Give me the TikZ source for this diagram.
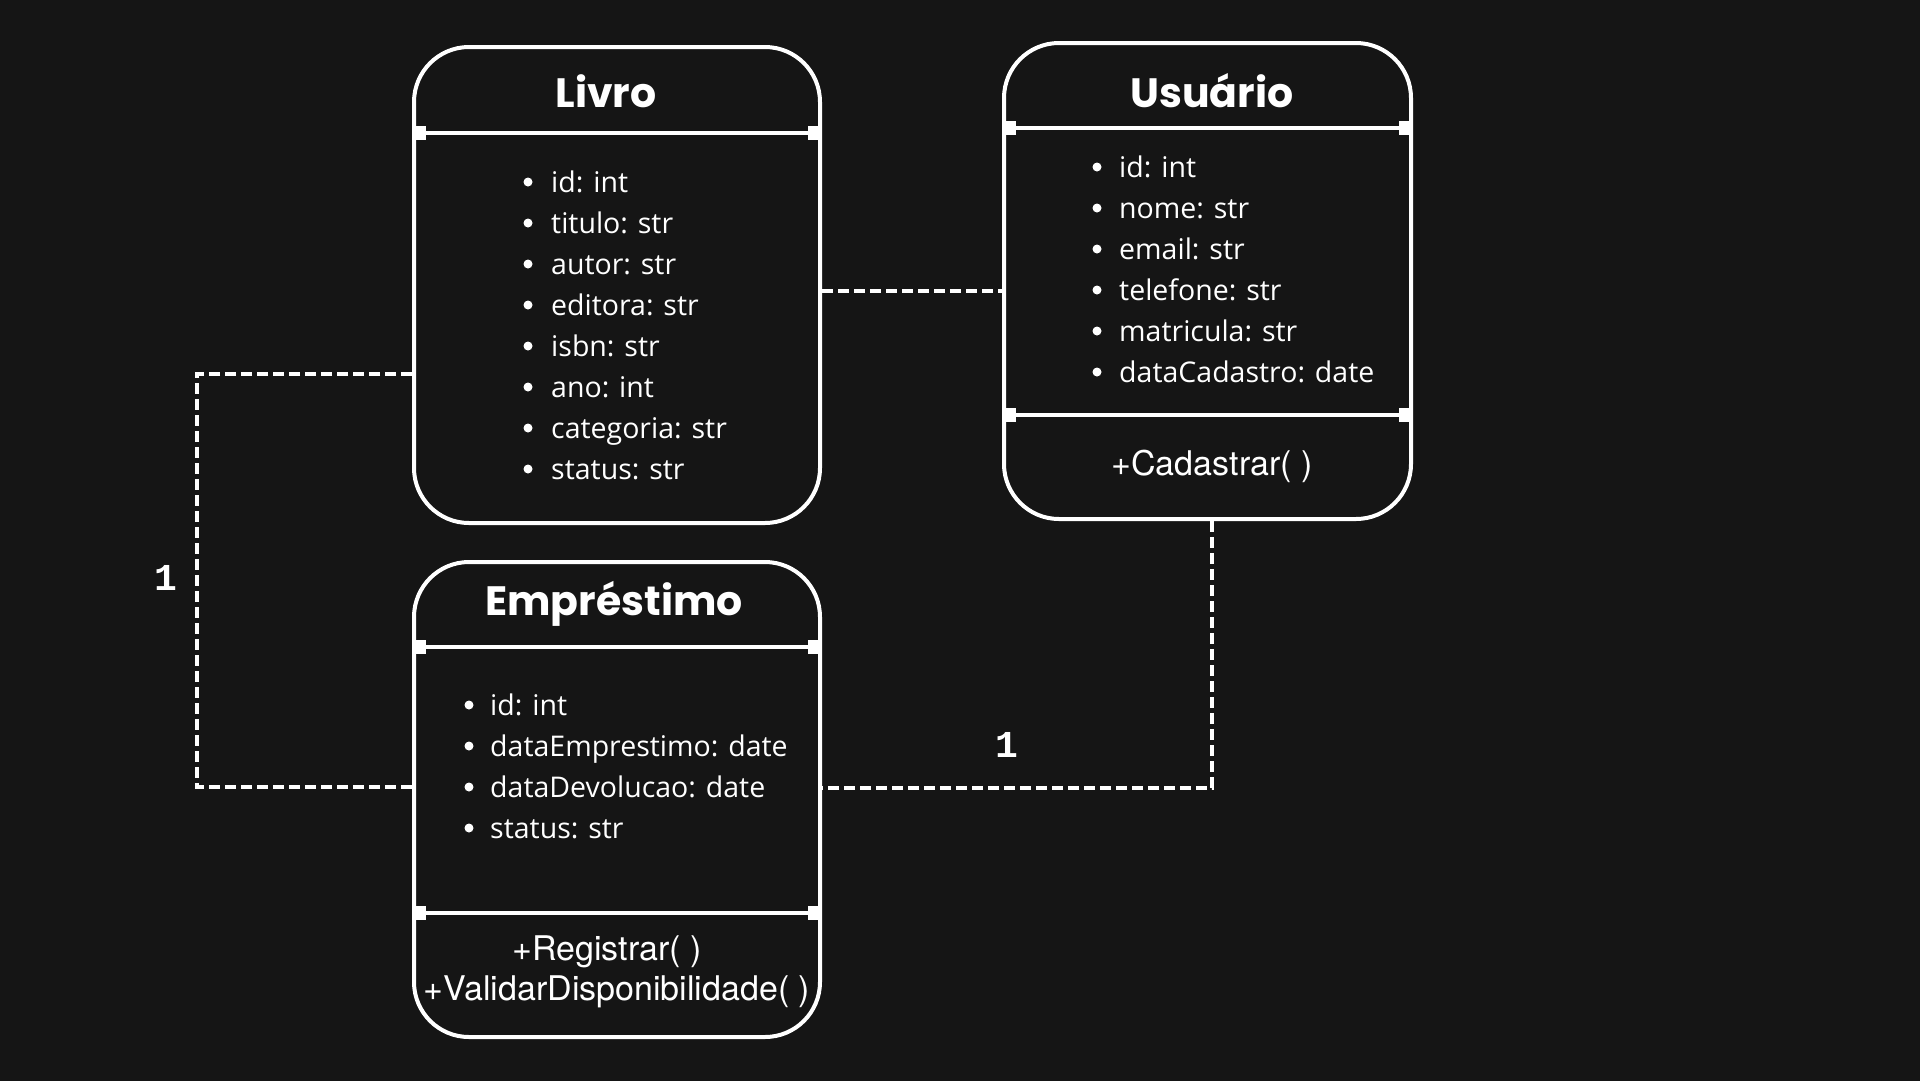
\documentclass[tikz,border=0pt]{standalone}
\usepackage{fontspec}
\setmainfont{Open Sans}
\newfontfamily\titlefont{Poppins}
\newfontfamily\methfont{TeX Gyre Heros}
\newfontfamily\multfont{Liberation Mono}
\usetikzlibrary{calc,positioning}
\definecolor{bg}{RGB}{21,21,21}

\begin{document}
\begin{tikzpicture}[x=1pt, y=-1pt,
  cls/.style={draw=white, fill=bg, line width=4pt, rounded corners=55pt, inner sep=0pt},
  ttl/.style={anchor=base, text=white, inner sep=0pt, font=\titlefont\bfseries\fontsize{41}{41}\selectfont},
  attr/.style={anchor=base west, text=white, inner sep=0pt, font=\fontsize{28.5}{28.5}\selectfont},
  meth/.style={anchor=base, text=white, inner sep=0pt, font=\methfont\fontsize{34}{34}\selectfont},
  sep/.style={draw=white, line width=3.5pt},
  assoc/.style={draw=white, line width=3.5pt, dash pattern=on 11pt off 5pt},
  mult/.style={anchor=base, text=white, inner sep=0pt, font=\multfont\bfseries\fontsize{38}{38}\selectfont}]
\useasboundingbox (0,0) rectangle (1920,1080);
\fill[bg] (-10,-10) rectangle (1930,1090);
%classes
\node[cls, minimum width=406pt, minimum height=476pt] (livro) at (617,285) {};
\node[cls, minimum width=407pt, minimum height=476pt] (usuario) at (1207.5,281) {};
\node[cls, minimum width=406pt, minimum height=475pt] (emp) at (617,799.5) {};
%compartment lines
\foreach \b/\y in {livro/133, usuario/128, usuario/415, emp/647, emp/913}{
  \draw[sep] (\b.west |- 0,\y) -- (\b.east |- 0,\y);
  \fill[white] (\b.west |- 0,\y) ++(1,-7) rectangle ++(13,14);
  \fill[white] (\b.east |- 0,\y) ++(-14,-7) rectangle ++(13,14);
}
%titles
\node[ttl] (livro-t) at (606,107) {Livro};
\node[ttl] (usuario-t) at (1212,107) {Usuário};
\node[ttl] (emp-t) at (614,615) {Empréstimo};
%attributes
\foreach \txt [count=\i from 0] in {id: int, titulo: str, autor: str, editora: str, isbn: str, ano: int, categoria: str, status: str}{
  \fill[white] (528,182+41*\i) circle (4.5pt);
  \node[attr] (livro-\i) at (551,192+41*\i) {\txt};
}
\foreach \txt [count=\i from 0] in {id: int, nome: str, email: str, telefone: str, matricula: str, dataCadastro: date}{
  \fill[white] (1097,167+41*\i) circle (4.5pt);
  \node[attr] (usuario-\i) at (1119,177+41*\i) {\txt};
}
\foreach \txt [count=\i from 0] in {id: int, dataEmprestimo: date, dataDevolucao: date, status: str}{
  \fill[white] (469,705+41*\i) circle (4.5pt);
  \node[attr] (emp-\i) at (490,715+41*\i) {\txt};
}
%methods
\node[meth] (usuario-m) at (1212,475) {+Cadastrar( )};
\node[meth] (emp-m1) at (607,960) {+Registrar( )};
\node[meth] (emp-m2) at (617,1000) {+ValidarDisponibilidade( )};
%associations
\draw[assoc] (livro.east |- 0,291) -- (usuario.west |- 0,291);
\draw[assoc] (livro.west |- 0,374) -| (197,787) -- (emp.west |- 0,787);
\draw[assoc] (1212,0 |- usuario.south) |- (emp.east |- 0,788);
\node[mult] (m1) at (166,590) {1};
\node[mult] (m2) at (1007,757) {1};
\end{tikzpicture}
\end{document}
